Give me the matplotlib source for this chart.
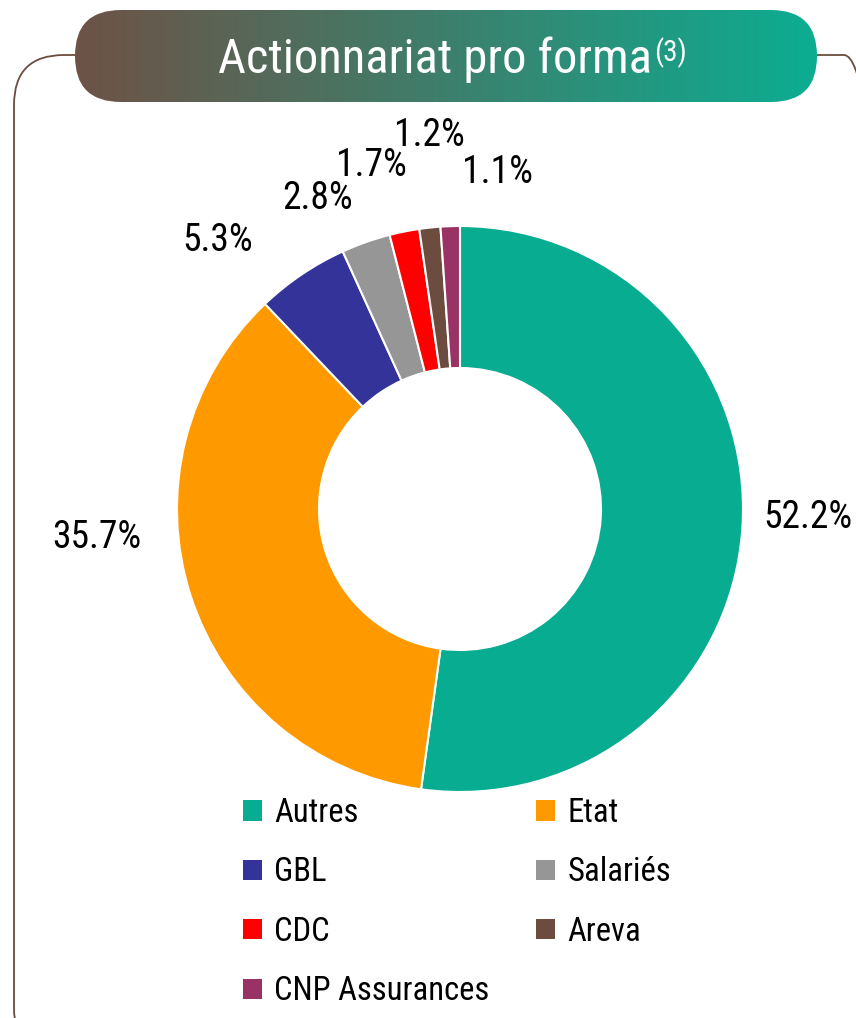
import matplotlib
matplotlib.use("Agg")
import matplotlib.pyplot as plt
import numpy as np
from matplotlib.patches import FancyBboxPatch, Patch
from matplotlib import font_manager

# shareholder structure (pro forma), percent
names = ["Autres", "Etat", "GBL", "Salariés", "CDC", "Areva", "CNP Assurances"]
shares = [52.2, 35.7, 5.3, 2.8, 1.7, 1.2, 1.1]
colors = ["#08AC91", "#FF9900", "#333399", "#969696", "#FF0000", "#6B4C3F", "#993366"]

# where Excel put each data label (image pixels, y from top)
label_pos = [(808, 517), (97, 537), (218, 240), (318, 198), (371, 165), (429, 135), (497, 172)]

W, H = 856, 1018
avail = {f.name for f in font_manager.fontManager.ttflist}
fam = "Liberation Sans"
for c in ["Roboto Condensed", "Archivo Narrow", "PT Sans Narrow"]:
    if c in avail:
        fam = c
        break
plt.rcParams["font.family"] = [fam, "DejaVu Sans"]

fig = plt.figure(figsize=(W / 100, H / 100), dpi=100)
ax = fig.add_axes([0, 0, 1, 1])

# outer frame (rounded, runs off the right and bottom)
frame = FancyBboxPatch((14, -40), 880, H - 55 + 40,
                       boxstyle="round,pad=0,rounding_size=50",
                       facecolor="none", edgecolor="#6B4C3F", lw=1.3, zorder=1)
ax.add_patch(frame)

# title pill with brown -> teal gradient
px0, px1, py0, py1 = 75, 817, H - 102, H - 10
pill = FancyBboxPatch((px0, py0), px1 - px0, py1 - py0,
                      boxstyle="round,pad=0,rounding_size=46",
                      facecolor="white", edgecolor="none", zorder=2)
ax.add_patch(pill)
c0 = np.array([110, 82, 70]) / 255
c1 = np.array([12, 173, 146]) / 255
t = np.linspace(0, 1, 256)
grad = (c0[None, :] * (1 - t[:, None]) + c1[None, :] * t[:, None])[None, :, :]
im = ax.imshow(grad, extent=(px0, px1, py0, py1), aspect="auto", zorder=3)
im.set_clip_path(pill)

title = ax.text(218, H - 73, "Actionnariat pro forma", color="white", fontsize=35,
                ha="left", va="baseline", zorder=4)
ax.annotate("(3)", xy=(1.0, H - 61), xycoords=(title, "data"),
            xytext=(1.5, 0), textcoords="offset points",
            color="white", fontsize=21, ha="left", va="baseline", zorder=4)

# donut
cx, cy, R = 460, H - 509, 283
wedges, _ = ax.pie(shares, colors=colors, startangle=90, counterclock=False,
                   center=(cx, cy), radius=R, frame=True,
                   wedgeprops=dict(width=142, edgecolor="white", linewidth=1.5))
ax.set_xlim(0, W)
ax.set_ylim(0, H)
ax.axis("off")

for (lx, ly), v in zip(label_pos, shares):
    ax.text(lx, H - ly, f"{v:.1f}%", fontsize=27, ha="center", va="center", color="black")

# legend, filled row by row like the original
order = [0, 2, 4, 6, 1, 3, 5]
handles = [Patch(facecolor=colors[i], edgecolor="none") for i in order]
labels = [names[i] for i in order]
ax.legend(handles, labels, ncol=2, frameon=False, fontsize=23.5,
          loc="upper left", bbox_to_anchor=(243 / W, 1 - 797 / H),
          handlelength=0.58, handleheight=0.58, handletextpad=0.37,
          columnspacing=1.44, labelspacing=0.84, borderpad=0, borderaxespad=0)

fig.savefig("out.png", dpi=100)
